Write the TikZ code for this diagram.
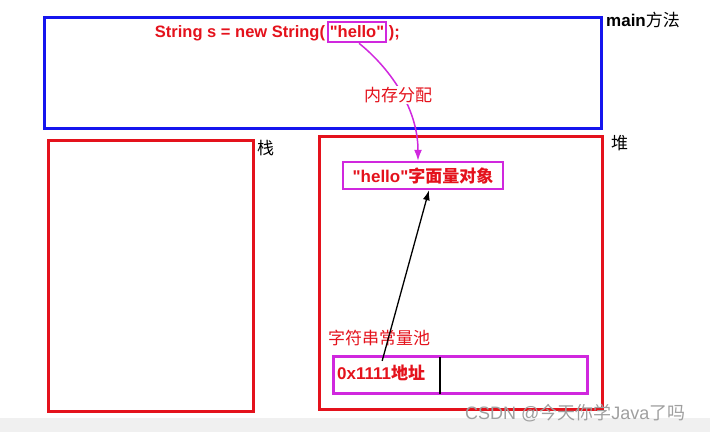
\documentclass[tikz,border=0pt]{standalone}
\usepackage{fontspec}
\setmainfont{Liberation Sans}[Ligatures=TeXOff]
\newfontfamily\cjk{Noto Sans CJK SC}
\usepackage{tikz}
\usetikzlibrary{arrows,arrows.meta,positioning}
\definecolor{boxred}{RGB}{228,18,28}
\definecolor{boxblue}{RGB}{22,22,238}
\definecolor{pinkbox}{RGB}{208,40,222}

\begin{document}
\begin{tikzpicture}[x=1pt,y=-1pt,
  area/.style={draw=boxred,line width=2.5pt,anchor=north west,inner sep=0pt},
  tag/.style={draw=pinkbox,line width=2.5pt,inner sep=0pt},
  txt/.style={inner sep=0pt,font=\fontsize{17}{20}\selectfont},
  code/.style={inner sep=0pt,text=boxred,font=\fontsize{16.5}{20}\selectfont\bfseries}]
  \useasboundingbox (0,0) rectangle (710,432);
  \fill[gray!12] (0,418) rectangle (710,432);

  % main frame
  \node[area,draw=boxblue,line width=3pt,minimum width=557pt,minimum height=111pt] (main) at (43,16) {};
  \node[txt,anchor=west] (mainlbl) at (606,20) {\textbf{main}{\cjk 方法}};
  \node[tag,code,minimum width=58pt,minimum height=20pt] (hello) at (357,32) {"hello"};
  \node[code,anchor=base east] (codeL) at ([xshift=-1.5pt]hello.base west) {String s = new String(};
  \node[code,anchor=base west] (codeR) at ([xshift=1.5pt]hello.base east) {);};

  % stack and heap
  \node[area,minimum width=205pt,minimum height=271pt] (stack) at (47,139) {};
  \node[txt,anchor=west] (stacklbl) at (257,148) {\cjk 栈};
  \node[area,minimum width=283pt,minimum height=273pt] (heap) at (318,135) {};
  \node[txt,anchor=west] (heaplbl) at (611,143) {\cjk 堆};

  \node[tag,txt,text=boxred,minimum width=160pt,minimum height=27pt] (obj) at (423,175.5) {\textbf{"hello"}{\cjk\bfseries 字面量对象}};

  \node[txt,text=boxred,anchor=west] (poollbl) at (328,338) {\cjk 字符串常量池};
  \node[tag,anchor=north west,minimum width=254pt,minimum height=37pt] (pool) at (332,355) {};
  \node[txt,text=boxred,anchor=west] (addr) at (337,373) {\textbf{0x1111}{\cjk\bfseries 地址}};
  \coordinate (septop) at (440,357);
  \coordinate (sepbot) at (440,394);
  \draw[line width=2.5pt] (septop) -- (sepbot);

  % arrows
  \draw[-{Latex[length=11pt,width=8pt]},draw=pinkbox,line width=1.5pt] ([xshift=2pt]hello.south) .. controls (392,70) and (418,110) .. ([xshift=-5pt]obj.north);
  \node[txt,text=boxred,fill=white,inner sep=1pt] (alloc) at (398,95) {\cjk 内存分配};
  \draw[-{Latex[length=10pt,width=7pt]},line width=1.3pt] ([xshift=1pt,yshift=4pt]addr.north) -- ([xshift=6pt]obj.south);

  \node[txt,text=gray!75,anchor=west,font=\fontsize{18}{20}\selectfont] (mark) at (465,413) {CSDN @{\cjk 今天你学}Java{\cjk 了吗}};
\end{tikzpicture}
\end{document}
